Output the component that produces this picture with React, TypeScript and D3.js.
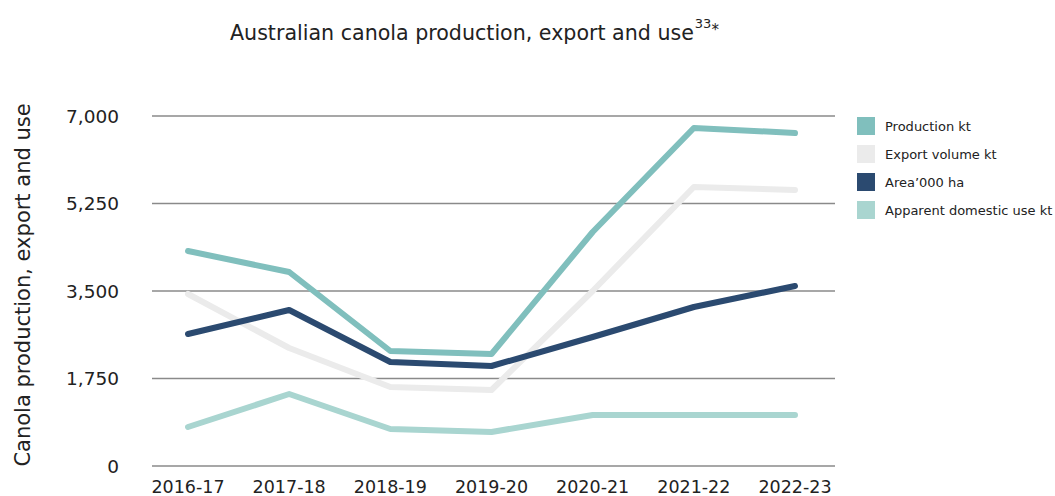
import React from "react";
import * as d3 from "d3";

const years = ["2016-17", "2017-18", "2018-19", "2019-20", "2020-21", "2021-22", "2022-23"];
const production = [4300, 3880, 2300, 2240, 4680, 6760, 6660];
const exportVolume = [3440, 2360, 1580, 1520, 3500, 5580, 5520];
const area = [2640, 3120, 2080, 2000, 2580, 3180, 3600];
const domesticUse = [780, 1440, 740, 680, 1020, 1020, 1020];
const yTicks = [0, 1750, 3500, 5250, 7000];
const seriesNames = ["Production kt", "Export volume kt", "Area\u2019000 ha", "Apparent domestic use kt"];
const seriesColors = ["#80bfbd", "#ebebeb", "#2b4a70", "#a9d5d0"];

const FONT = "'DejaVu Sans', sans-serif";

export default function App() {
  const W = 1055, H = 496;
  const x = d3.scalePoint<string>().domain(years).range([188, 795]);
  const y = d3.scaleLinear().domain([0, 7000]).range([466, 116]);
  const gridX0 = 152, gridX1 = 835;
  const line = d3.line<number>().x((_, i) => x(years[i]) as number).y((d) => y(d));
  const allSeries = [production, exportVolume, area, domesticUse];
  const order = [1, 3, 0, 2];
  const fmt = d3.format(",");
  return (
    <svg width={W} height={H} style={{ position: "absolute", left: 0, top: 0, background: "#fff" }} fontFamily={FONT}>
      <text x={230} y={40} textAnchor="start" fontSize={20.6} fill="#222">
        Australian canola production, export and use
        <tspan fontSize={13} dy={-12} dx={1}>33</tspan>
        <tspan fontSize={15} dy={7}>*</tspan>
      </text>
      {yTicks.map((t) => (
        <g key={t}>
          <line x1={gridX0} x2={gridX1} y1={y(t)} y2={y(t)} stroke="#8a8a8a" strokeWidth={1.5} />
          <text x={119} y={y(t)} dy="0.36em" textAnchor="end" fontSize={18.5} fill="#222">{fmt(t)}</text>
        </g>
      ))}
      <text transform={`translate(30,285) rotate(-90)`} textAnchor="middle" fontSize={21} fill="#222">
        Canola production, export and use
      </text>
      {years.map((yr) => (
        <text key={yr} x={x(yr)} y={493} textAnchor="middle" fontSize={17.5} fill="#222">{yr}</text>
      ))}
      {order.map((si) => (
        <path key={si} d={line(allSeries[si]) || ""} fill="none" stroke={seriesColors[si]} strokeWidth={6}
          strokeLinejoin="round" strokeLinecap="round" />
      ))}
      {seriesNames.map((n, i) => (
        <g key={n} transform={`translate(857,${117 + i * 28})`}>
          <rect width={18} height={18} fill={seriesColors[i]} />
          <text x={28} y={9} dy="0.36em" fontSize={13} fill="#222">{n}</text>
        </g>
      ))}
    </svg>
  );
}
